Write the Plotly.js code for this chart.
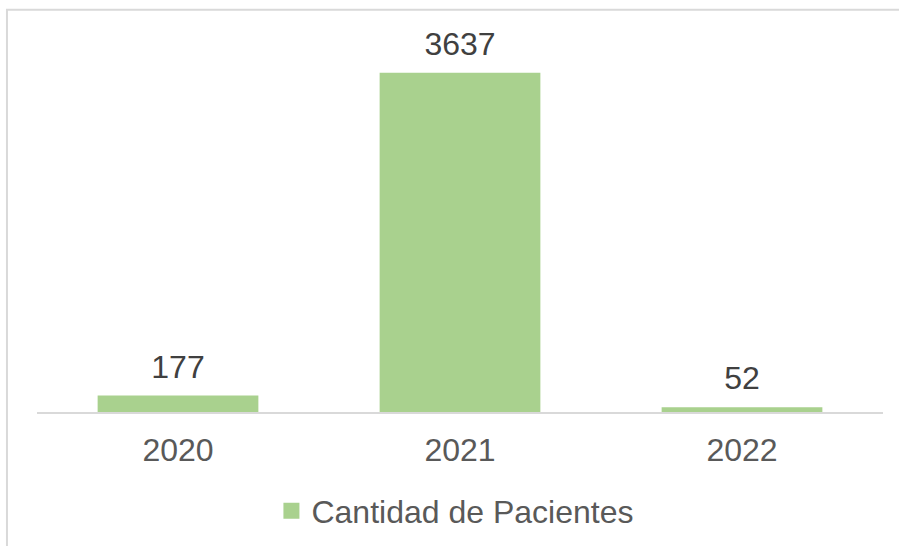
<!DOCTYPE html>
<html>
<head>
<meta charset="utf-8">
<script src="https://cdn.plot.ly/plotly-3.0.1.min.js"></script>
<style>html,body{margin:0;padding:0;background:#fff;}</style>
</head>
<body>
<div id="chart" style="width:899px;height:546px;"></div>
<script>
const categories = ["2020", "2021", "2022"];
const pacientes = [177, 3637, 52];
const seriesName = "Cantidad de Pacientes";

const FONT = "Liberation Sans, Arial, sans-serif";
const GREEN = "#a9d18e";

const bars = {
  type: "bar",
  x: categories,
  y: pacientes,
  name: seriesName,
  marker: {color: GREEN},
  showlegend: false,
  hoverinfo: "none"
};

const labels = {
  type: "scatter",
  mode: "markers+text",
  x: categories,
  y: pacientes,
  text: pacientes.map(String),
  textposition: "top center",
  textfont: {family: FONT, size: 32, color: "#404040"},
  marker: {size: 14, opacity: 0, color: "#ffffff"},
  cliponaxis: false,
  showlegend: false,
  hoverinfo: "none"
};

// legend key for the bar series (square swatch, like the original)
const legendKey = {
  type: "scatter",
  mode: "markers",
  x: [null],
  y: [null],
  name: seriesName,
  marker: {symbol: "square", size: 17, color: GREEN},
  showlegend: true,
  hoverinfo: "none"
};

const layout = {
  width: 899,
  height: 546,
  margin: {l: 37, r: 16, t: 39, b: 134, autoexpand: false},
  paper_bgcolor: "#ffffff",
  plot_bgcolor: "#ffffff",
  bargap: 0.43,
  font: {family: FONT, color: "#595959"},
  xaxis: {
    type: "category",
    showline: true,
    linecolor: "#d9d9d9",
    linewidth: 1.5,
    ticks: "",
    showgrid: false,
    tickfont: {size: 32, color: "#595959"},
    ticklabelstandoff: 9
  },
  yaxis: {
    range: [0, 4000],
    visible: false,
    showgrid: false,
    zeroline: false
  },
  showlegend: true,
  legend: {
    orientation: "h",
    x: 0.494, xanchor: "center",
    y: -0.265, yanchor: "middle",
    font: {size: 32, color: "#595959"},
    itemwidth: 30
  },
  shapes: [{
    type: "path",
    xref: "paper", yref: "paper",
    path: "M -0.0355,-0.5 L -0.0355,1.0785 L 1.1,1.0785",
    line: {color: "#d9d9d9", width: 2}
  }]
};

Plotly.newPlot("chart", [bars, labels, legendKey], layout, {displayModeBar: false, staticPlot: true});
</script>
</body>
</html>
